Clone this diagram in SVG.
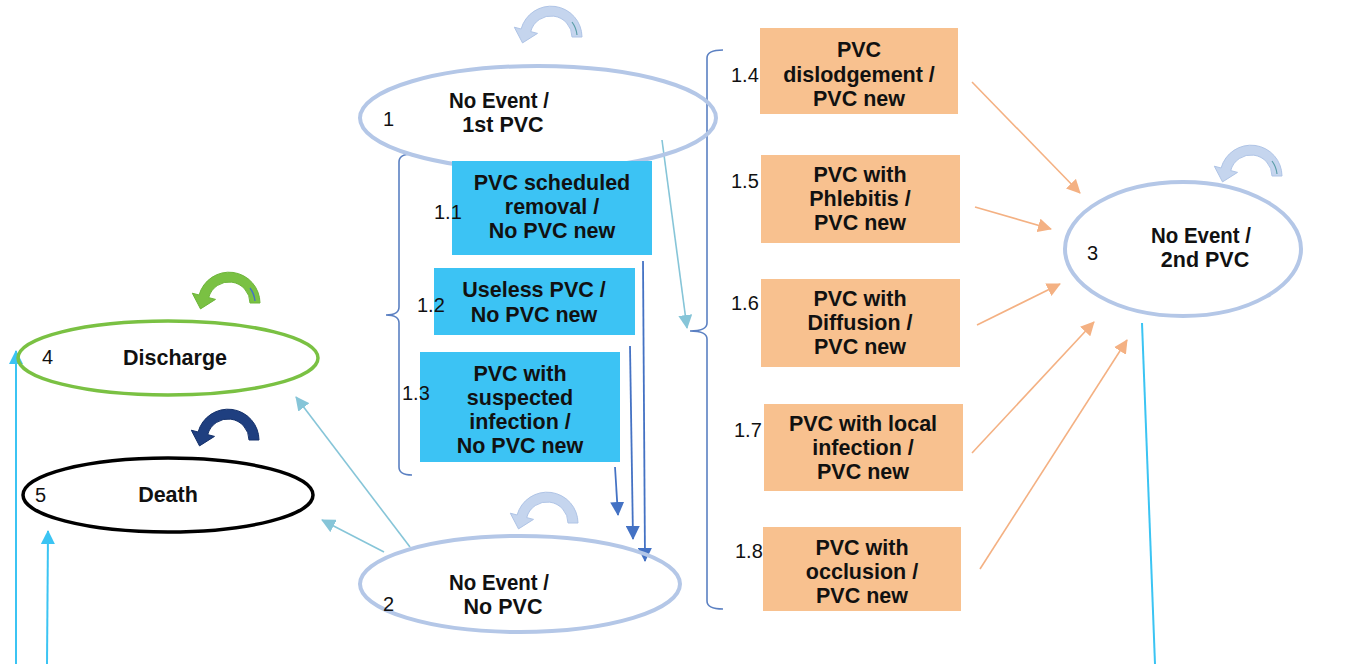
<svg xmlns="http://www.w3.org/2000/svg" width="1347" height="664" viewBox="0 0 1347 664">
<style>
.t{font-family:"Liberation Sans",Arial,sans-serif;font-weight:bold;font-size:21.5px;fill:#111;text-anchor:middle}
.n{font-family:"Liberation Sans",Arial,sans-serif;font-size:20px;fill:#111}
.ell{fill:none;stroke:#B4C7E7;stroke-width:4}
.bbox{fill:#3CC3F4}
.obox{fill:#F8C18F}
.br{fill:none;stroke:#5B80C2;stroke-width:1.6}
.oa{stroke:#F4B183;stroke-width:1.6;fill:none;marker-end:url(#mo)}
.ta{stroke:#86C5D8;stroke-width:1.6;fill:none;marker-end:url(#mt)}
.da{stroke:#4472C4;stroke-width:1.8;fill:none;marker-end:url(#md)}
.ca{stroke:#3BC4F3;stroke-width:2;fill:none;marker-end:url(#mc)}
</style>
<defs>
<marker id="mo" markerUnits="userSpaceOnUse" markerWidth="16" markerHeight="14" refX="13" refY="7" orient="auto"><path d="M0,0 L14,7 L0,14 Z" fill="#F4B183"/></marker>
<marker id="mt" markerUnits="userSpaceOnUse" markerWidth="16" markerHeight="14" refX="13" refY="7" orient="auto"><path d="M0,0 L14,7 L0,14 Z" fill="#86C5D8"/></marker>
<marker id="md" markerUnits="userSpaceOnUse" markerWidth="16" markerHeight="14" refX="13" refY="7" orient="auto"><path d="M0,0 L14,7 L0,14 Z" fill="#4472C4"/></marker>
<marker id="mc" markerUnits="userSpaceOnUse" markerWidth="16" markerHeight="14" refX="13" refY="7" orient="auto"><path d="M0,0 L14,7 L0,14 Z" fill="#3BC4F3"/></marker>
<path id="loop" d="M 31 0 A 31 31 0 0 0 -29.9 -8 L -36.7 -9.8 L -28.5 5.9 L -13.5 -3.6 L -20.3 -5.4 A 21 21 0 0 1 21 0 Z"/>
</defs>
<rect width="1347" height="664" fill="#ffffff"/>

<g id="connectors">
<path class="br" d="M 412 154 Q 399 154 399 162 L 399 307 Q 399 315 386 315 Q 399 315 399 323 L 399 467 Q 399 475 412 475"/>
<path class="br" d="M 723 50 Q 707 50 707 58 L 707 323 Q 707 331 690 331 Q 707 331 707 339 L 707 601 Q 707 609 723 609"/>
<line class="ta" x1="662" y1="140" x2="687" y2="328"/>
<line class="da" x1="643" y1="261" x2="645" y2="561"/>
<line class="da" x1="630" y1="346" x2="633" y2="539"/>
<line class="da" x1="615" y1="467" x2="618" y2="515"/>
<line class="ta" x1="410" y1="547" x2="296" y2="397"/>
<line class="ta" x1="384" y1="552" x2="322" y2="520"/>
<line class="ca" x1="16" y1="664" x2="16" y2="351"/>
<line class="ca" x1="47" y1="664" x2="48" y2="531"/>
<line stroke="#3BC4F3" stroke-width="2" x1="1142" y1="323" x2="1155" y2="664"/>
<line class="oa" x1="972" y1="82" x2="1080" y2="193"/>
<line class="oa" x1="975" y1="207" x2="1051" y2="229"/>
<line class="oa" x1="977" y1="325" x2="1060" y2="284"/>
<line class="oa" x1="972" y1="453" x2="1094" y2="322"/>
<line class="oa" x1="980" y1="569" x2="1127" y2="340"/>
</g>

<g id="loop1"><use href="#loop" transform="translate(551,37)" fill="#C5D5EE" stroke="#AFC4E6" stroke-width="1"/><path d="M 26 -2 A 26 26 0 0 0 21 -15" fill="none" stroke="#5A9DA8" stroke-width="1.2" transform="translate(551,37)"/></g>
<g id="loop2"><use href="#loop" transform="translate(547,523)" fill="#C5D5EE" stroke="#AFC4E6" stroke-width="1"/></g>
<g id="loop3"><use href="#loop" transform="translate(1251,176)" fill="#C5D5EE" stroke="#AFC4E6" stroke-width="1"/><path d="M 26 -2 A 26 26 0 0 0 21 -15" fill="none" stroke="#5A9DA8" stroke-width="1.2" transform="translate(1251,176)"/></g>
<g id="loop4"><use href="#loop" transform="translate(229,303)" fill="#7AC143" stroke="#6DB53A" stroke-width="1"/><path d="M 26 -2 A 26 26 0 0 0 21 -15" fill="none" stroke="#4472C4" stroke-width="1.4" transform="translate(229,303)"/></g>
<g id="loop5"><use href="#loop" transform="translate(228,440)" fill="#1F3F80" stroke="#14306A" stroke-width="1"/></g>

<g id="node1">
<ellipse class="ell" cx="538" cy="118" rx="178" ry="52"/>
<text class="t" x="499" y="108" textLength="100" lengthAdjust="spacingAndGlyphs">No Event /</text>
<text class="t" x="503" y="132">1st PVC</text>
<text class="n" x="383" y="126">1</text>
</g>
<g id="node2">
<ellipse class="ell" cx="520" cy="584" rx="160" ry="48"/>
<text class="t" x="499" y="590" textLength="100" lengthAdjust="spacingAndGlyphs">No Event /</text>
<text class="t" x="503" y="614">No PVC</text>
<text class="n" x="383" y="611">2</text>
</g>
<g id="node3">
<ellipse class="ell" cx="1183" cy="249" rx="118" ry="67"/>
<text class="t" x="1201" y="243" textLength="100" lengthAdjust="spacingAndGlyphs">No Event /</text>
<text class="t" x="1205" y="267">2nd PVC</text>
<text class="n" x="1087" y="260">3</text>
</g>
<g id="node4">
<ellipse cx="168" cy="358" rx="150" ry="37" fill="none" stroke="#7AC143" stroke-width="3.5"/>
<text class="t" x="175" y="365">Discharge</text>
<text class="n" x="42" y="364">4</text>
</g>
<g id="node5">
<ellipse cx="168" cy="495" rx="145" ry="37" fill="none" stroke="#000" stroke-width="3.5"/>
<text class="t" x="168" y="502">Death</text>
<text class="n" x="35" y="502">5</text>
</g>

<g id="node1_1">
<rect class="bbox" x="452" y="161" width="200" height="94"/>
<text class="t" x="552" y="190">PVC scheduled</text>
<text class="t" x="552" y="214">removal /</text>
<text class="t" x="552" y="238">No PVC new</text>
<text class="n" x="434" y="219">1.1</text>
</g>
<g id="node1_2">
<rect class="bbox" x="434" y="268" width="201" height="67"/>
<text class="t" x="534" y="297">Useless PVC /</text>
<text class="t" x="534" y="322">No PVC new</text>
<text class="n" x="417" y="312">1.2</text>
</g>
<g id="node1_3">
<rect class="bbox" x="420" y="352" width="200" height="110"/>
<text class="t" x="520" y="381">PVC with</text>
<text class="t" x="520" y="405">suspected</text>
<text class="t" x="520" y="429">infection /</text>
<text class="t" x="520" y="453">No PVC new</text>
<text class="n" x="402" y="400">1.3</text>
</g>

<g id="node1_4">
<rect class="obox" x="760" y="28" width="198" height="86"/>
<text class="t" x="859" y="57">PVC</text>
<text class="t" x="859" y="82">dislodgement /</text>
<text class="t" x="859" y="106">PVC new</text>
<text class="n" x="731" y="82">1.4</text>
</g>
<g id="node1_5">
<rect class="obox" x="761" y="155" width="199" height="88"/>
<text class="t" x="860" y="182">PVC with</text>
<text class="t" x="860" y="206">Phlebitis /</text>
<text class="t" x="860" y="230">PVC new</text>
<text class="n" x="731" y="188">1.5</text>
</g>
<g id="node1_6">
<rect class="obox" x="761" y="279" width="199" height="88"/>
<text class="t" x="860" y="306">PVC with</text>
<text class="t" x="860" y="330">Diffusion /</text>
<text class="t" x="860" y="354">PVC new</text>
<text class="n" x="731" y="310">1.6</text>
</g>
<g id="node1_7">
<rect class="obox" x="764" y="404" width="199" height="87"/>
<text class="t" x="863" y="431">PVC with local</text>
<text class="t" x="863" y="455">infection /</text>
<text class="t" x="863" y="479">PVC new</text>
<text class="n" x="734" y="437">1.7</text>
</g>
<g id="node1_8">
<rect class="obox" x="763" y="527" width="198" height="84"/>
<text class="t" x="862" y="555">PVC with</text>
<text class="t" x="862" y="579">occlusion /</text>
<text class="t" x="862" y="603">PVC new</text>
<text class="n" x="735" y="558">1.8</text>
</g>
</svg>
